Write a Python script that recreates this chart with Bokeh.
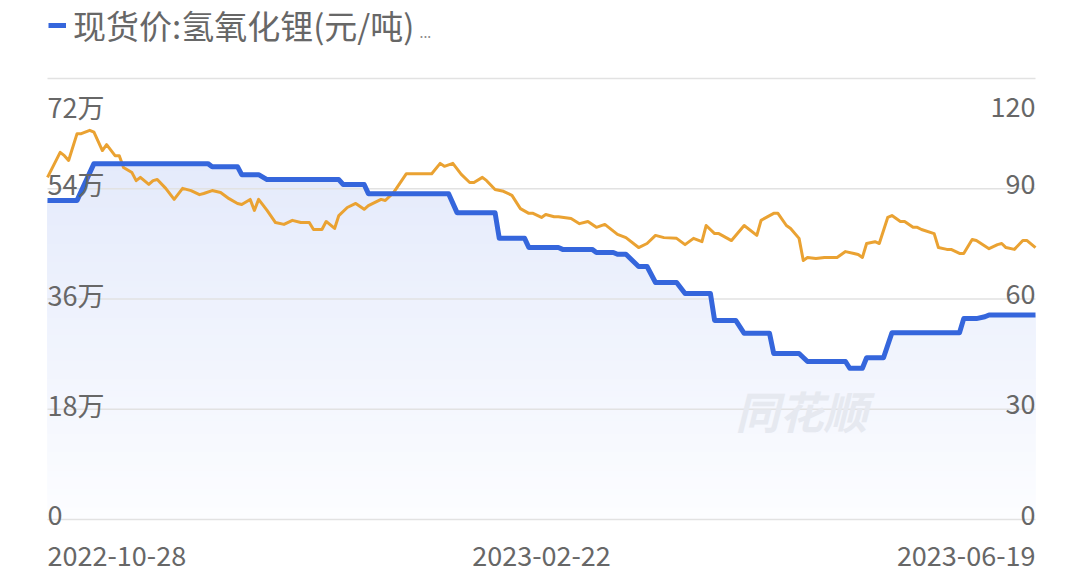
import numpy as np
import pandas as pd
from bokeh.plotting import figure
from bokeh.models import Range1d, Legend, LegendItem, Label
from bokeh.core.properties import value
from bokeh.embed import file_html
from bokeh.resources import INLINE

# ---------------- data ----------------
lioh_dates = [
    "2022-10-28", "2022-11-04", "2022-11-08", "2022-12-05", "2022-12-06", "2022-12-12",
    "2022-12-13", "2022-12-17", "2022-12-19", "2023-01-05", "2023-01-06", "2023-01-11",
    "2023-01-12", "2023-01-31", "2023-02-02", "2023-02-11", "2023-02-12", "2023-02-18",
    "2023-02-19", "2023-02-26", "2023-02-27", "2023-03-06", "2023-03-07", "2023-03-11",
    "2023-03-12", "2023-03-14", "2023-03-17", "2023-03-19", "2023-03-21", "2023-03-26",
    "2023-03-28", "2023-04-03", "2023-04-04", "2023-04-09", "2023-04-11", "2023-04-17",
    "2023-04-18", "2023-04-24", "2023-04-26", "2023-05-05", "2023-05-06", "2023-05-09",
    "2023-05-10", "2023-05-14", "2023-05-16", "2023-06-01", "2023-06-02", "2023-06-05",
    "2023-06-07", "2023-06-08", "2023-06-19",
]
lioh_price = [
    521000, 521000, 581000, 581000, 576000, 576000,
    563000, 563000, 555000, 555000, 547000, 547000,
    532000, 532000, 501000, 501000, 459000, 459000,
    444000, 444000, 441000, 441000, 436000, 436000,
    433000, 433000, 413000, 413000, 387000, 387000,
    369000, 369000, 325000, 325000, 304000, 304000,
    271000, 271000, 258000, 258000, 247000, 247000,
    264000, 264000, 305000, 305000, 328000, 328000,
    331000, 334000, 334000,
]

second_dates = [
    "2022-10-28", "2022-10-31", "2022-11-01", "2022-11-02", "2022-11-04", "2022-11-05",
    "2022-11-07", "2022-11-08", "2022-11-10", "2022-11-11", "2022-11-13", "2022-11-14",
    "2022-11-15", "2022-11-17", "2022-11-18", "2022-11-19", "2022-11-21", "2022-11-22",
    "2022-11-23", "2022-11-25", "2022-11-27", "2022-11-29", "2022-12-01", "2022-12-03",
    "2022-12-04", "2022-12-06", "2022-12-08", "2022-12-10", "2022-12-12", "2022-12-13",
    "2022-12-15", "2022-12-16", "2022-12-17", "2022-12-19", "2022-12-21", "2022-12-23",
    "2022-12-25", "2022-12-27", "2022-12-29", "2022-12-30", "2023-01-01", "2023-01-02",
    "2023-01-04", "2023-01-05", "2023-01-07", "2023-01-09", "2023-01-11", "2023-01-12",
    "2023-01-15", "2023-01-16", "2023-01-18", "2023-01-21", "2023-01-27", "2023-01-29",
    "2023-01-30", "2023-02-01", "2023-02-03", "2023-02-05", "2023-02-06", "2023-02-08",
    "2023-02-09", "2023-02-11", "2023-02-13", "2023-02-15", "2023-02-17", "2023-02-19",
    "2023-02-20", "2023-02-22", "2023-02-23", "2023-02-25", "2023-02-26", "2023-03-01",
    "2023-03-03", "2023-03-05", "2023-03-07", "2023-03-09", "2023-03-12", "2023-03-14",
    "2023-03-17", "2023-03-19", "2023-03-21", "2023-03-23", "2023-03-26", "2023-03-28",
    "2023-03-30", "2023-04-01", "2023-04-02", "2023-04-04", "2023-04-05", "2023-04-08",
    "2023-04-11", "2023-04-14", "2023-04-15", "2023-04-18", "2023-04-19", "2023-04-21",
    "2023-04-22", "2023-04-24", "2023-04-25", "2023-04-26", "2023-04-28", "2023-04-30",
    "2023-05-03", "2023-05-05", "2023-05-07", "2023-05-08", "2023-05-09", "2023-05-10",
    "2023-05-12", "2023-05-13", "2023-05-15", "2023-05-16", "2023-05-18", "2023-05-19",
    "2023-05-21", "2023-05-22", "2023-05-23", "2023-05-26", "2023-05-27", "2023-05-29",
    "2023-05-30", "2023-06-01", "2023-06-02", "2023-06-04", "2023-06-05", "2023-06-08",
    "2023-06-10", "2023-06-11", "2023-06-12", "2023-06-14", "2023-06-16", "2023-06-17",
    "2023-06-19",
]
second_value = [
    93.1, 99.9, 99.0, 97.7, 105.0, 105.0,
    105.9, 105.4, 100.4, 102.0, 99.0, 99.0,
    95.8, 94.4, 92.2, 93.1, 91.2, 92.2,
    92.5, 90.1, 87.1, 90.1, 89.5, 88.4,
    88.7, 89.5, 89.0, 87.3, 86.0, 85.7,
    87.1, 84.1, 87.1, 84.1, 80.8, 80.3,
    81.4, 80.8, 80.8, 78.9, 78.9, 81.1,
    79.2, 82.7, 84.9, 86.0, 84.4, 85.4,
    87.1, 86.8, 89.0, 94.1, 94.1, 96.9,
    96.1, 96.9, 93.9, 91.7, 91.7, 93.1,
    92.2, 89.8, 89.3, 88.2, 84.6, 83.3,
    83.3, 82.2, 83.0, 82.4, 82.4, 81.9,
    80.5, 81.1, 79.5, 80.3, 77.6, 76.7,
    74.0, 75.1, 77.3, 76.7, 76.5, 74.8,
    76.5, 75.6, 80.0, 77.8, 77.8, 75.9,
    80.0, 77.3, 81.4, 83.3, 83.3, 80.0,
    79.2, 76.5, 70.5, 71.3, 71.0, 71.3,
    71.3, 72.9, 72.4, 72.1, 71.3, 75.1,
    75.6, 75.1, 82.2, 82.7, 81.1, 81.1,
    79.5, 79.5, 78.9, 77.8, 74.0, 73.5,
    73.5, 72.4, 72.4, 76.2, 75.9, 73.7,
    74.8, 75.1, 74.0, 73.5, 75.9, 75.9,
    74.0,
]

left_ticks = [0, 180000, 360000, 540000, 720000]
left_labels = ["0", "18万", "36万", "54万", "72万"]
right_ticks = [0, 30, 60, 90, 120]
right_labels = ["0", "30", "60", "90", "120"]
x_label_dates = ["2022-10-28", "2023-02-22", "2023-06-19"]
legend_text = "现货价:氢氧化锂(元/吨)"
watermark_text = "同花顺"

# ---------------- layout ----------------
W, H = 1080, 574
PL, PR = 47, 1035          # plot left/right (canvas px)
PT, PB = 78, 519           # top gridline / zero line (canvas px)

bd = pd.to_datetime(lioh_dates)
sd = pd.to_datetime(second_dates)
t0 = pd.Timestamp(x_label_dates[0])
t1 = pd.Timestamp(x_label_dates[-1])
tpp = (t1 - t0) / (PR - PL)            # time per pixel
vpp = left_ticks[-1] / (PB - PT)       # value per pixel
rscale = right_ticks[-1] / left_ticks[-1]

x_start = t0 - tpp * PL
x_end = t1 + tpp * (W - PR)
y_start = -vpp * (H - PB)
y_end = left_ticks[-1] + vpp * PT

FONT = "Noto Sans CJK SC"
GRAY = "#676767"
BLUE = "#3566dc"
ORANGE = "#eaa232"
FILL_TOP = (228, 234, 251)
FILL_BOTTOM = (252, 253, 255)

p = figure(width=W, height=H, output_backend="svg", toolbar_location=None,
           x_axis_type="datetime", x_axis_location=None, y_axis_location=None,
           min_border=0, outline_line_color=None,
           x_range=Range1d(x_start, x_end), y_range=Range1d(y_start, y_end))
p.extra_y_ranges = {"r": Range1d(y_start * rscale, y_end * rscale)}
p.xgrid.visible = False
p.ygrid.visible = False
p.background_fill_color = "white"
p.border_fill_color = "white"

# vertical gradient under the blue series, painted as stacked solid layers
blue_arr = np.array(lioh_price, dtype=float)
top = blue_arr.max()
for lvl in np.arange(0, top, 10000):
    f = lvl / top
    col = "#%02x%02x%02x" % tuple(int(round(b + (t - b) * f))
                                  for b, t in zip(FILL_BOTTOM, FILL_TOP))
    p.varea(x=bd, y1=np.minimum(blue_arr, lvl), y2=blue_arr, fill_color=col)

# gridlines
p.segment(x0=[t0] * len(left_ticks), x1=[t1] * len(left_ticks),
          y0=left_ticks, y1=left_ticks, line_color="#e2e2e2", line_width=1.5)

# watermark
p.text(x=[t0 + tpp * 688], y=[vpp * 110], text=[watermark_text],
       text_font=value(FONT), text_font_size="44px", text_font_style="bold italic",
       text_color="#e6e9f0", text_align="left", text_baseline="middle")

# series
orange_r = p.line(sd, second_value, y_range_name="r", line_color=ORANGE,
                  line_width=3, line_join="round")
blue_r = p.line(bd, lioh_price, line_color=BLUE, line_width=5, line_join="round")

# left tick labels
l_off = [28 if v == left_ticks[-1] else -5 for v in left_ticks]
p.text(x=[t0] * len(left_ticks), y=left_ticks, text=left_labels, y_offset=l_off,
       text_font=value(FONT), text_font_size="27px", text_color=GRAY,
       text_align="left", text_baseline="alphabetic")
# right tick labels
r_off = [28 if v == right_ticks[-1] else -5 for v in right_ticks]
p.text(x=[t1] * len(right_ticks), y=right_ticks, text=right_labels, y_offset=r_off,
       y_range_name="r", text_font=value(FONT), text_font_size="27px",
       text_color=GRAY, text_align="right", text_baseline="alphabetic")
# x labels
for d, al in zip(x_label_dates, ["left", "center", "right"]):
    p.text(x=[pd.Timestamp(d)], y=[0], text=[d], y_offset=36,
           text_font=value(FONT), text_font_size="27px", text_color=GRAY,
           text_align=al, text_baseline="alphabetic")

legend = Legend(items=[LegendItem(label=legend_text, renderers=[blue_r])],
                location=(48, 525), background_fill_alpha=0, border_line_color=None,
                label_text_font=FONT, label_text_font_size="33px",
                label_text_color=GRAY, glyph_width=18, label_standoff=7,
                padding=0, margin=0, spacing=0)
p.add_layout(legend)

p.add_layout(Label(x=t0 + tpp * 372, y=vpp * (PB - 37), text="...",
                   text_font=FONT, text_font_size="14px", text_color="#888888"))

open("out.html", "w").write(file_html(p, INLINE))
